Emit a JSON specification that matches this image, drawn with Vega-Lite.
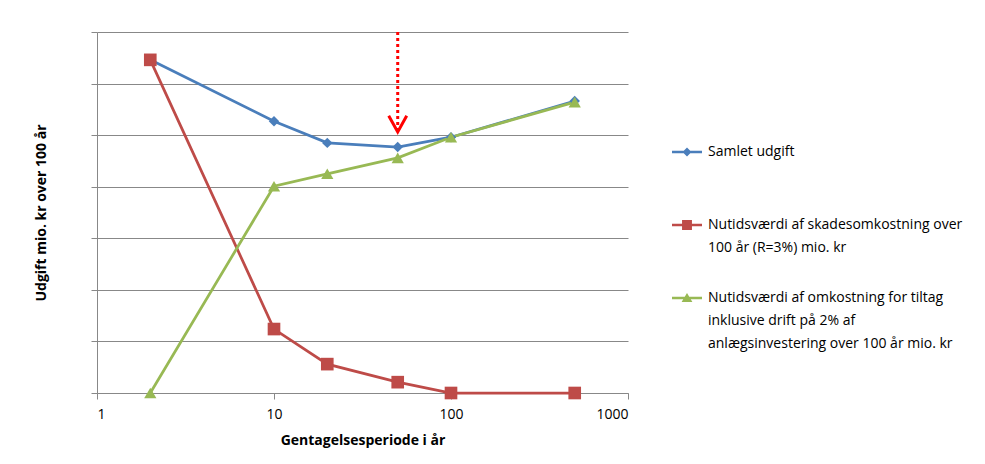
{
  "$schema": "https://vega.github.io/schema/vega-lite/v6.json",
  "autosize": {"type": "none"},
  "width": 531,
  "height": 361,
  "padding": {"left": 97, "top": 32, "right": 357, "bottom": 71},
  "background": "white",
  "config": {
    "view": {"stroke": null},
    "font": "Open Sans",
    "axis": {"labelFont": "Open Sans", "titleFont": "Open Sans", "domainColor": "#888888", "tickColor": "#888888", "gridColor": "#888888", "labelColor": "#000000", "titleColor": "#000000"}
  },
  "datasets": {
    "main": [
      {"periode": 2, "serie": "Samlet udgift", "v": 6.46},
      {"periode": 10, "serie": "Samlet udgift", "v": 5.27},
      {"periode": 20, "serie": "Samlet udgift", "v": 4.85},
      {"periode": 50, "serie": "Samlet udgift", "v": 4.77},
      {"periode": 100, "serie": "Samlet udgift", "v": 4.96},
      {"periode": 500, "serie": "Samlet udgift", "v": 5.66},
      {"periode": 2, "serie": "Skade", "v": 6.46},
      {"periode": 10, "serie": "Skade", "v": 1.24},
      {"periode": 20, "serie": "Skade", "v": 0.56},
      {"periode": 50, "serie": "Skade", "v": 0.21},
      {"periode": 100, "serie": "Skade", "v": 0.0},
      {"periode": 500, "serie": "Skade", "v": 0.0},
      {"periode": 2, "serie": "Tiltag", "v": 0.0},
      {"periode": 10, "serie": "Tiltag", "v": 4.01},
      {"periode": 20, "serie": "Tiltag", "v": 4.25},
      {"periode": 50, "serie": "Tiltag", "v": 4.56},
      {"periode": 100, "serie": "Tiltag", "v": 4.96},
      {"periode": 500, "serie": "Tiltag", "v": 5.64}
    ],
    "arrow": [
      {"periode": 50, "top": 7.0, "bottom": 5.1, "head": 5.22}
    ]
  },
  "layer": [
    {
      "data": {"name": "main"},
      "mark": {"type": "line", "strokeWidth": 2.75},
      "encoding": {
        "x": {
          "field": "periode", "type": "quantitative",
          "scale": {"type": "log", "domain": [1, 1000]},
          "axis": {"values": [1, 10, 100, 1000], "format": "d", "grid": false, "tickSize": 6, "labelFontSize": 14, "labelPadding": 8, "title": "Gentagelsesperiode i år", "titleFontSize": 14, "titleFontWeight": "bold", "titlePadding": 12}
        },
        "y": {
          "field": "v", "type": "quantitative",
          "scale": {"domain": [0, 7], "nice": false},
          "axis": {"values": [0, 1, 2, 3, 4, 5, 6, 7], "labels": false, "grid": true, "tickSize": 6, "title": "Udgift mio. kr over 100 år", "titleFontSize": 14, "titleFontWeight": "bold", "titlePadding": 42}
        },
        "color": {
          "field": "serie", "type": "nominal",
          "scale": {"domain": ["Samlet udgift", "Skade", "Tiltag"], "range": ["#4A7EBB", "#BE4B48", "#98B954"]},
          "legend": {
            "orient": "none", "legendX": 575, "legendY": 105, "title": null,
            "symbolType": "M-1,-0.09 L1,-0.09 L1,0.09 L-1,0.09 Z",
            "symbolSize": 900, "symbolStrokeWidth": 0, "symbolOpacity": 1,
            "labelFontSize": 14, "labelColor": "#000000", "labelLimit": 400, "labelBaseline": "middle",
            "rowPadding": 28, "labelOffset": 6,
            "labelExpr": "datum.label == 'Samlet udgift' ? ['Samlet udgift', ''] : datum.label == 'Skade' ? ['Nutidsværdi af skadesomkostning over', '100 år (R=3%) mio. kr'] : ['Nutidsværdi af omkostning for tiltag', 'inklusive  drift på 2% af', 'anlægsinvestering over 100 år mio. kr']",
            "encode": {
              "symbols": {"update": {"shape": {"signal": "datum.value == 'Samlet udgift' ? 'M-1,-0.09 L1,-0.09 L1,0.09 L-1,0.09 Z M0,-0.3 L0.3,0 L0,0.3 L-0.3,0 Z' : datum.value == 'Skade' ? 'M-1,-0.09 L1,-0.09 L1,0.09 L-1,0.09 Z M-0.33,-0.33 L0.33,-0.33 L0.33,0.33 L-0.33,0.33 Z' : 'M-1,-0.09 L1,-0.09 L1,0.09 L-1,0.09 Z M0,-0.33 L0.36,0.27 L-0.36,0.27 Z'"}}},
              "labels": {"update": {"lineHeight": {"value": 23}}}
            }
          }
        }
      }
    },
    {
      "data": {"name": "main"},
      "mark": {"type": "point", "filled": true, "opacity": 1},
      "encoding": {
        "x": {"field": "periode", "type": "quantitative"},
        "y": {"field": "v", "type": "quantitative"},
        "color": {"field": "serie", "type": "nominal"},
        "shape": {"condition": [{"test": "datum.serie == 'Samlet udgift'", "value": "diamond"}, {"test": "datum.serie == 'Skade'", "value": "square"}], "value": "triangle-up"},
        "size": {"condition": [{"test": "datum.serie == 'Samlet udgift'", "value": 110}, {"test": "datum.serie == 'Skade'", "value": 160}], "value": 150}
      }
    },
    {
      "data": {"name": "arrow"},
      "mark": {"type": "rule", "color": "#FF0000", "strokeWidth": 3, "strokeDash": [3, 3]},
      "encoding": {
        "x": {"field": "periode", "type": "quantitative"},
        "y": {"field": "top", "type": "quantitative"},
        "y2": {"field": "bottom"}
      }
    },
    {
      "data": {"name": "arrow"},
      "mark": {"type": "point", "shape": "M-1,-0.9 L0,0.9 L1,-0.9", "filled": false, "stroke": "#FF0000", "strokeWidth": 3, "size": 324, "opacity": 1},
      "encoding": {
        "x": {"field": "periode", "type": "quantitative"},
        "y": {"field": "head", "type": "quantitative"}
      }
    }
  ]
}
